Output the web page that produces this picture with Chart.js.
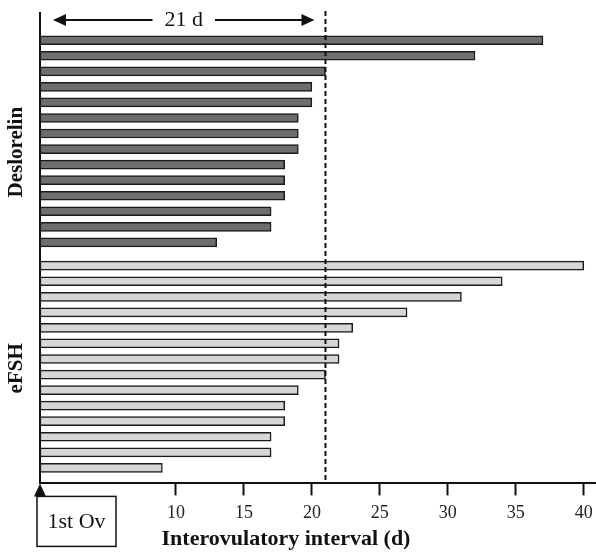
<!DOCTYPE html>
<html>
<head>
<meta charset="utf-8">
<script src="https://cdn.jsdelivr.net/npm/chart.js@4.4.1/dist/chart.umd.min.js"></script>
<style>
  html, body { margin: 0; padding: 0; background: #fff; }
  #wrap { width: 596px; height: 554px; position: relative; }
</style>
</head>
<body>
<div id="wrap"><canvas id="chart"></canvas></div>
<script>
// interovulatory intervals (days), one bar per mare, sorted longest first
const groups = ['Deslorelin', 'eFSH'];
const deslorelin = [37, 32, 21, 20, 20, 19, 19, 19, 18, 18, 18, 17, 17, 13];
const efsh = [40, 34, 31, 27, 23, 22, 22, 21, 19, 18, 18, 17, 17, 9];
const xTicks = [10, 15, 20, 25, 30, 35, 40];
const refDays = 21;
const gapRows = 0.5; // extra space between the two groups

const efshStart = deslorelin.length + gapRows;
const serif = '"Liberation Serif", "Times New Roman", serif';

const overlay = {
  id: 'overlay',
  afterDatasetsDraw(chart) {
    const { ctx, chartArea: a, scales: { x, y } } = chart;
    const x0 = x.getPixelForValue(0);
    const xr = x.getPixelForValue(refDays);
    ctx.save();

    // dashed reference line at 21 d
    ctx.strokeStyle = '#111';
    ctx.lineWidth = 2;
    ctx.setLineDash([5, 3]);
    ctx.beginPath();
    ctx.moveTo(xr, 11);
    ctx.lineTo(xr, a.bottom);
    ctx.stroke();
    ctx.setLineDash([]);

    // double arrow "21 d"
    const ay = 20, l = x0 + 13, r = xr - 11, mid = (l + r) / 2;
    ctx.font = '22px ' + serif;
    ctx.fillStyle = '#111';
    ctx.textAlign = 'center';
    ctx.textBaseline = 'middle';
    ctx.fillText('21 d', mid, ay);
    const half = ctx.measureText('21 d').width / 2 + 12;
    ctx.lineWidth = 2;
    ctx.beginPath();
    ctx.moveTo(l + 8, ay); ctx.lineTo(mid - half, ay);
    ctx.moveTo(mid + half, ay); ctx.lineTo(r - 8, ay);
    ctx.stroke();
    ctx.beginPath();
    ctx.moveTo(l, ay); ctx.lineTo(l + 13, ay - 6); ctx.lineTo(l + 13, ay + 6); ctx.closePath();
    ctx.moveTo(r, ay); ctx.lineTo(r - 13, ay - 6); ctx.lineTo(r - 13, ay + 6); ctx.closePath();
    ctx.fill();

    // group labels
    ctx.font = 'bold 21px ' + serif;
    const labelY = [y.getPixelForValue(7.2), y.getPixelForValue(efshStart + 6.6)];
    groups.forEach((g, i) => {
      ctx.save();
      ctx.translate(17, labelY[i]);
      ctx.rotate(-Math.PI / 2);
      ctx.fillText(g, 0, 0);
      ctx.restore();
    });

    // axis title (sits left of centre in the original)
    ctx.font = 'bold 22px ' + serif;
    ctx.fillText('Interovulatory interval (d)', 286, a.bottom + 56);

    // first ovulation marker
    ctx.beginPath();
    ctx.moveTo(x0, a.bottom);
    ctx.lineTo(x0 - 6, a.bottom + 13);
    ctx.lineTo(x0 + 6, a.bottom + 13);
    ctx.closePath();
    ctx.fill();
    ctx.lineWidth = 1.5;
    ctx.strokeRect(37, a.bottom + 13, 79, 50);
    ctx.font = '22px ' + serif;
    ctx.fillText('1st Ov', 76.5, a.bottom + 39);
    ctx.restore();
  }
};

new Chart(document.getElementById('chart'), {
  type: 'bar',
  data: {
    datasets: [
      {
        label: groups[0],
        data: deslorelin.map((v, i) => ({ x: v, y: i })),
        backgroundColor: '#6e6e6e'
      },
      {
        label: groups[1],
        data: efsh.map((v, i) => ({ x: v, y: efshStart + i })),
        backgroundColor: '#d6d6d6'
      }
    ]
  },
  options: {
    indexAxis: 'y',
    responsive: true,
    maintainAspectRatio: false,
    animation: false,
    layout: { padding: { left: 40, top: 13, right: 0, bottom: 23 } },
    datasets: {
      bar: {
        grouped: false,
        barThickness: 9,
        borderColor: '#1a1a1a',
        borderWidth: 1.5,
        borderSkipped: false
      }
    },
    plugins: {
      legend: { display: false },
      tooltip: { enabled: false }
    },
    scales: {
      x: {
        type: 'linear',
        min: 0,
        max: 40.9,
        afterBuildTicks: s => { s.ticks = xTicks.map(v => ({ value: v })); },
        afterFit: s => { s.paddingRight = 0; },
        ticks: { color: '#222', font: { family: serif, size: 18 }, padding: 7 },
        grid: { drawOnChartArea: false, tickLength: 12, tickColor: '#111', tickWidth: 2 },
        border: { color: '#111', width: 2 }
      },
      y: {
        type: 'linear',
        reverse: true,
        offset: false,
        min: -1.75,
        max: deslorelin.length + gapRows + efsh.length,
        ticks: { display: false },
        grid: { color: 'transparent', drawTicks: false },
        border: { color: '#111', width: 2 }
      }
    }
  },
  plugins: [overlay]
});
</script>
</body>
</html>
